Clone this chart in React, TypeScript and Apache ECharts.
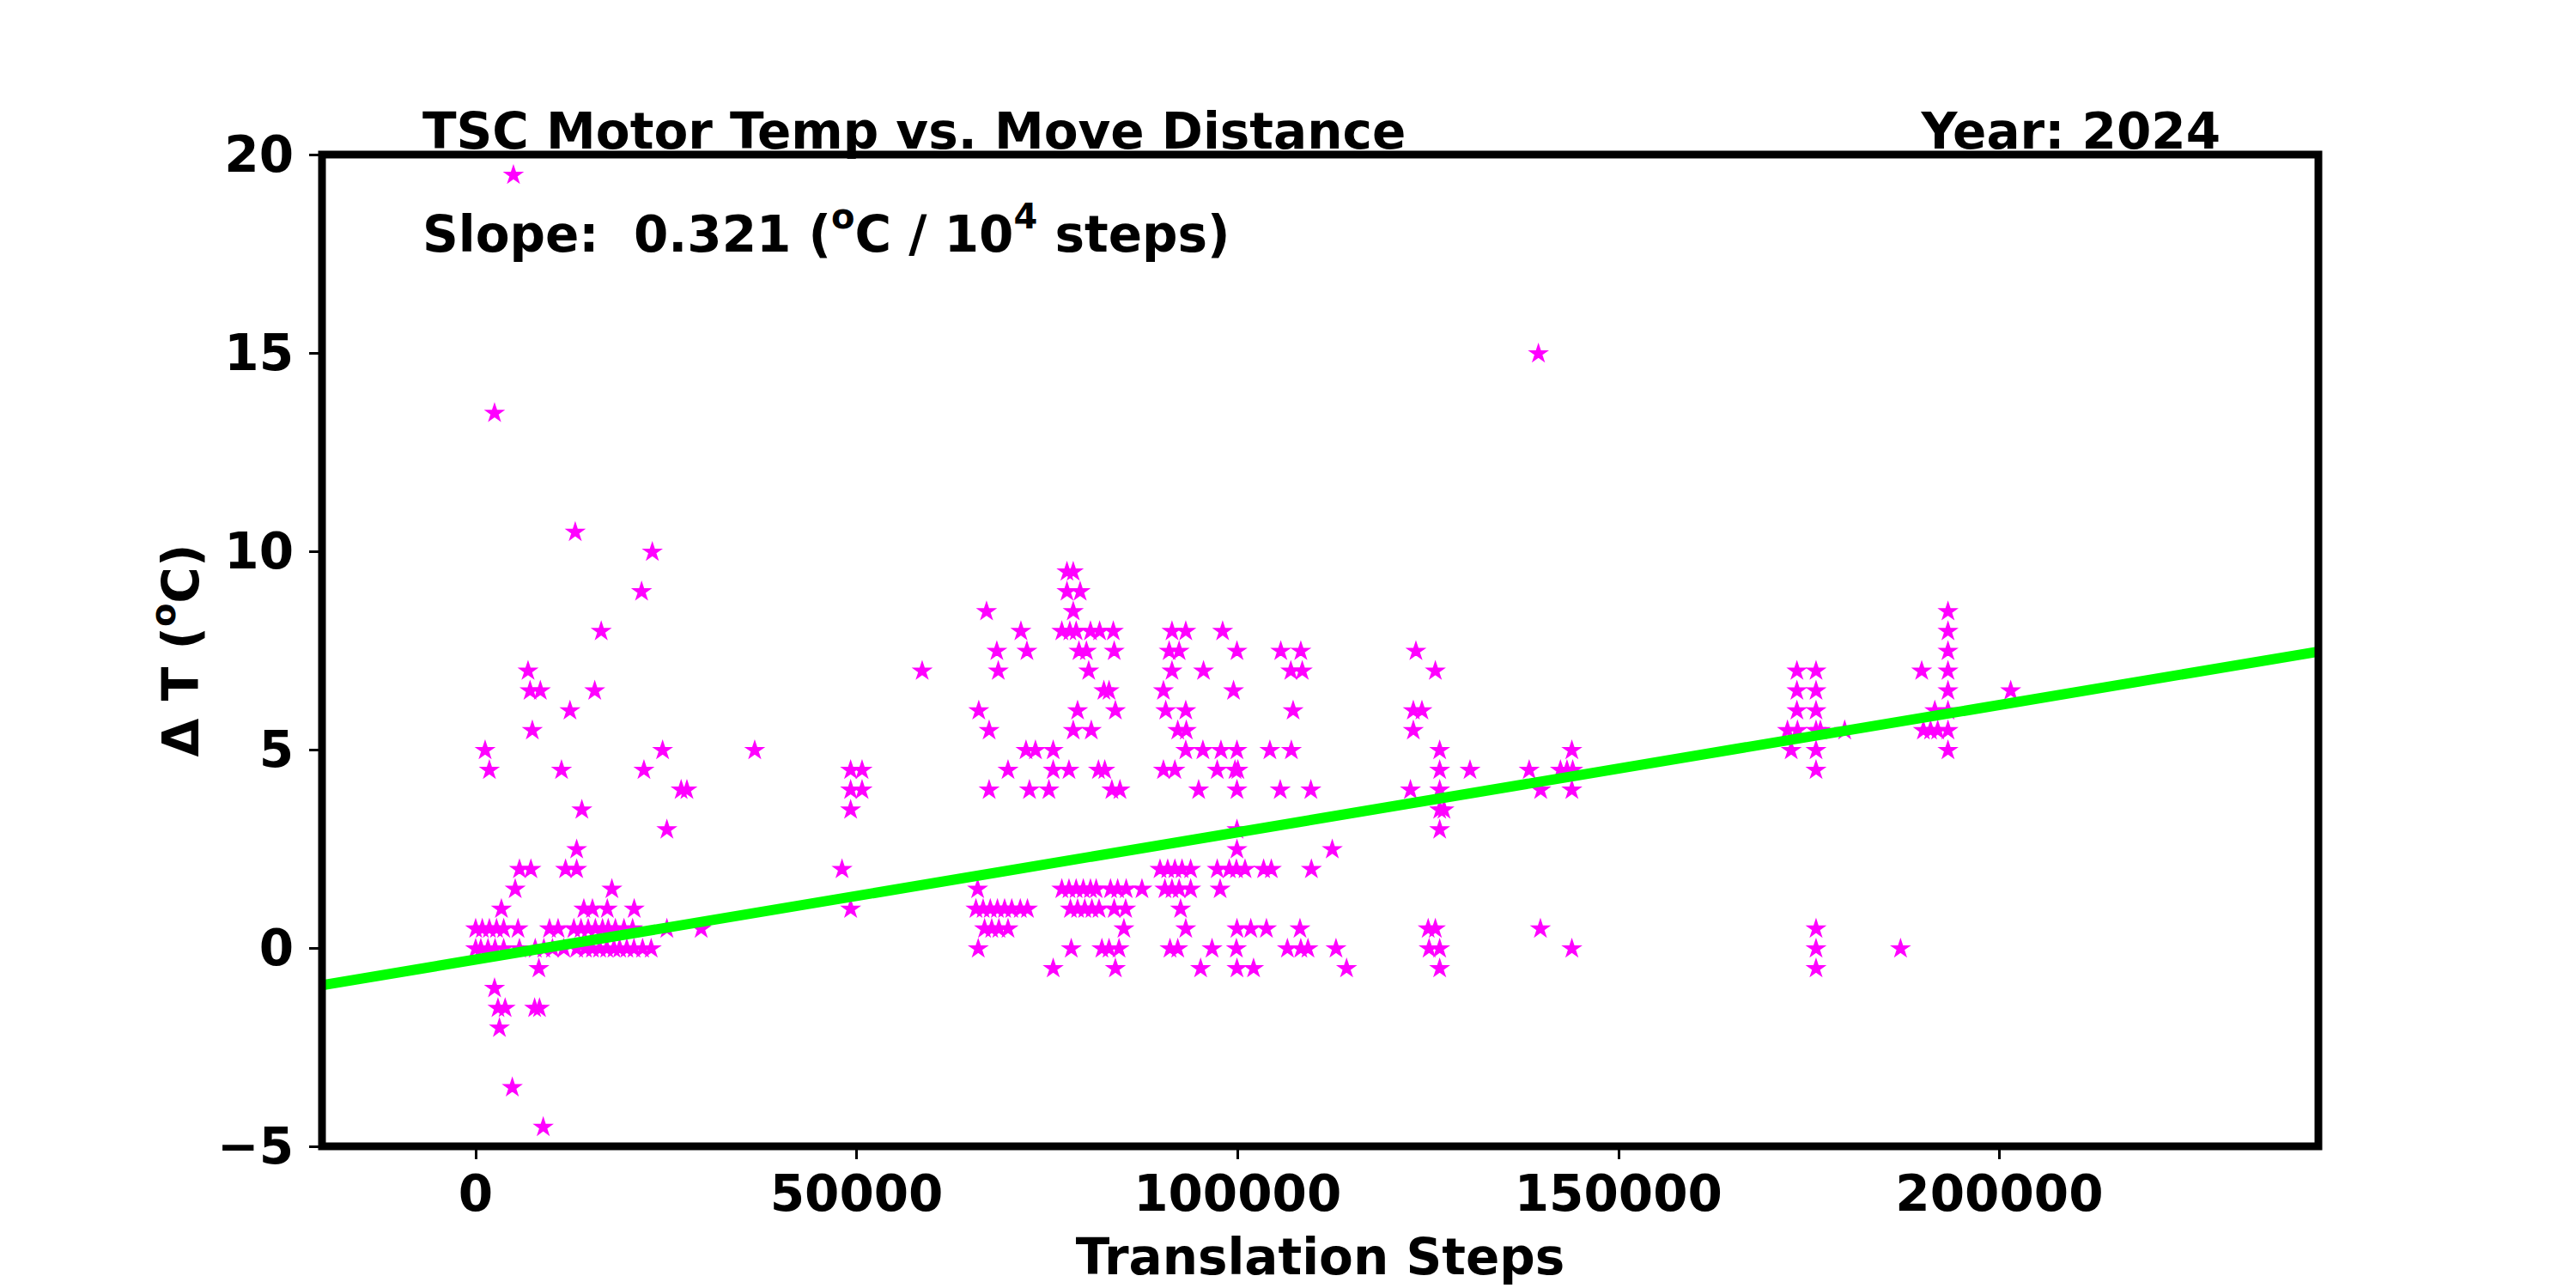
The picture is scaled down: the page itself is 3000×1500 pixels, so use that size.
import React, { useEffect, useRef } from "react";
import * as echarts from "echarts";

// ---- axis ranges & ticks ----
const X_MIN = -20170;
const X_MAX = 241880;
const Y_MIN = -5;
const Y_MAX = 20;
const xTickValues = [0, 50000, 100000, 150000, 200000];

// ---- texts ----
const titleText = "TSC Motor Temp vs. Move Distance";
const yearText = "Year: 2024";
const xAxisName = "Translation Steps";

// ---- data: [translation steps, delta T] ----
const earlyPoints: number[][] = [
  [4960, 19.5], [2480, 13.5], [13070, 10.5], [23190, 10.0], [21780, 9.0], [16480, 8.0],
  [6875, 7.0], [7140, 6.5], [8490, 6.5], [15630, 6.5], [12380, 6.0], [7440, 5.5],
  [1240, 5.0], [24540, 5.0], [36630, 5.0], [1800, 4.5], [11270, 4.5], [22090, 4.5],
  [26970, 4.0], [27730, 4.0], [13940, 3.5], [25100, 3.0], [13260, 2.5],
  [5750, 2.0], [7250, 2.0], [11800, 2.0], [13260, 2.0], [5190, 1.5], [17880, 1.5],
  [3380, 1.0], [14200, 1.0], [15330, 1.0], [17280, 1.0], [20810, 1.0],
  [0, 0.5], [870, 0.5], [1800, 0.5], [2740, 0.5], [3680, 0.5], [5560, 0.5], [9690, 0.5],
  [10820, 0.5], [12890, 0.5], [13830, 0.5], [14770, 0.5], [15710, 0.5], [16650, 0.5],
  [17400, 0.5], [18340, 0.5], [19470, 0.5], [20600, 0.5], [25100, 0.5], [29600, 0.5],
  [0, 0], [680, 0], [1620, 0], [2550, 0], [3680, 0], [5750, 0], [7820, 0], [8950, 0],
  [10080, 0], [11570, 0], [13260, 0], [14400, 0], [15330, 0], [16270, 0], [17210, 0],
  [18150, 0], [18900, 0], [19840, 0], [20780, 0], [21910, 0], [23040, 0],
  [8300, -0.5], [2480, -1.0], [2930, -1.5], [3870, -1.5], [7740, -1.5], [8380, -1.5],
  [3120, -2.0], [4810, -3.5], [8870, -4.5],
];

const midPoints: number[][] = [
  [48090, 2.0], [49220, 4.5], [50720, 4.5], [49220, 4.0], [50720, 4.0],
  [49220, 3.5], [49220, 1.0], [58610, 7.0],
];

const densePoints: number[][] = [
  [77616, 9.5], [78440, 9.5], [77616, 9.0], [79345, 9.0], [67060, 8.5], [78440, 8.5],
  [71570, 8.0], [76940, 8.0], [77990, 8.0], [78820, 8.0], [80700, 8.0], [81900, 8.0],
  [83700, 8.0], [91400, 8.0], [93210, 8.0], [98050, 8.0],
  [68410, 7.5], [72360, 7.5], [79190, 7.5], [80170, 7.5], [83815, 7.5], [91030, 7.5],
  [92340, 7.5], [99930, 7.5], [105680, 7.5], [108310, 7.5],
  [68600, 7.0], [80470, 7.0], [91400, 7.0], [95540, 7.0], [107000, 7.0], [108500, 7.0],
  [82460, 6.5], [83140, 6.5], [90280, 6.5], [99480, 6.5],
  [66040, 6.0], [79010, 6.0], [83970, 6.0], [90580, 6.0], [93210, 6.0], [107300, 6.0],
  [67400, 5.5], [78440, 5.5], [80810, 5.5], [92160, 5.5], [93280, 5.5],
  [72240, 5.0], [73480, 5.0], [75810, 5.0], [93210, 5.0], [95460, 5.0], [97830, 5.0],
  [99930, 5.0], [104250, 5.0], [107070, 5.0],
  [69880, 4.5], [75810, 4.5], [77880, 4.5], [81750, 4.5], [82580, 4.5], [90280, 4.5],
  [91780, 4.5], [97340, 4.5], [99670, 4.5], [100050, 4.5],
  [67400, 4.0], [72690, 4.0], [75250, 4.0], [83510, 4.0], [84570, 4.0], [94900, 4.0],
  [99930, 4.0], [105610, 4.0], [109630, 4.0],
  [99930, 3.0], [99930, 2.5], [112440, 2.5],
  [89830, 2.0], [90840, 2.0], [91780, 2.0], [92720, 2.0], [93850, 2.0], [97340, 2.0],
  [98920, 2.0], [99860, 2.0], [100990, 2.0], [103430, 2.0], [104440, 2.0], [109700, 2.0],
  [65890, 1.5], [76940, 1.5], [77880, 1.5], [78820, 1.5], [79760, 1.5], [80700, 1.5],
  [81450, 1.5], [83330, 1.5], [84270, 1.5], [85390, 1.5], [87460, 1.5], [90470, 1.5],
  [91400, 1.5], [92340, 1.5], [93850, 1.5], [97720, 1.5],
  [65670, 1.0], [66610, 1.0], [67550, 1.0], [68490, 1.0], [69430, 1.0], [70370, 1.0],
  [71490, 1.0], [72430, 1.0], [78070, 1.0], [79010, 1.0], [79950, 1.0], [80890, 1.0],
  [81830, 1.0], [83815, 1.0], [85320, 1.0], [92530, 1.0],
  [66800, 0.5], [67740, 0.5], [68680, 0.5], [69880, 0.5], [85090, 0.5], [93210, 0.5],
  [99930, 0.5], [101740, 0.5], [103800, 0.5], [108200, 0.5],
  [65970, 0], [78180, 0], [82200, 0], [83140, 0], [84450, 0], [91140, 0], [92160, 0],
  [96660, 0], [99860, 0], [106550, 0], [108310, 0], [109250, 0], [112930, 0],
  [75810, -0.5], [83970, -0.5], [95160, -0.5], [99930, -0.5], [102110, -0.5], [114320, -0.5],
];

const latePoints: number[][] = [
  [139500, 15.0], [123420, 7.5], [125970, 7.0], [123080, 6.0], [124210, 6.0], [123080, 5.5],
  [126540, 5.0], [143890, 5.0], [126540, 4.5], [130520, 4.5], [138290, 4.5], [142390, 4.5],
  [143250, 4.5], [144000, 4.5], [122700, 4.0], [126540, 4.0], [139800, 4.0], [143890, 4.0],
  [126540, 3.5], [127100, 3.5], [126540, 3.0], [125030, 0.5], [125970, 0.5], [139760, 0.5],
  [125150, 0], [126540, 0], [143890, 0], [126540, -0.5],
];

const farPoints: number[][] = [
  [193260, 8.5], [193260, 8.0], [193260, 7.5],
  [173430, 7.0], [175940, 7.0], [189810, 7.0], [193260, 7.0],
  [173430, 6.5], [175940, 6.5], [193260, 6.5], [201490, 6.5],
  [173430, 6.0], [175940, 6.0], [191530, 6.0], [193260, 6.0],
  [172190, 5.5], [173500, 5.5], [175940, 5.5], [176510, 5.5], [179700, 5.5],
  [190030, 5.5], [190970, 5.5], [191910, 5.5], [193260, 5.5],
  [172680, 5.0], [175940, 5.0], [193260, 5.0], [175940, 4.5],
  [175940, 0.5], [175940, 0], [187030, 0], [175940, -0.5],
];

// fit line end points (at the axis edges)
const fitX = [X_MIN, X_MAX];
const fitY = [-0.94, 7.47];

const STAR =
  "path://M0,-1L0.2245,-0.309L0.9511,-0.309L0.3633,0.118L0.5878,0.809L0,0.382L-0.5878,0.809L-0.3633,0.118L-0.9511,-0.309L-0.2245,-0.309Z";

const FONT = "DejaVu Sans";

export default function App() {
  const ref = useRef<HTMLDivElement>(null);

  useEffect(() => {
    if (!ref.current) return;
    const chart = echarts.init(ref.current, undefined, { renderer: "svg" });
    const allPoints = [...earlyPoints, ...midPoints, ...densePoints, ...latePoints, ...farPoints];
    const base = { fontFamily: FONT, fontWeight: "bold" as const, fontSize: 58, color: "#000" };

    chart.setOption({
      animation: false,
      backgroundColor: "#fff",
      textStyle: { fontFamily: FONT, fontWeight: "bold" },
      grid: {
        left: 375,
        top: 180,
        width: 2325,
        height: 1155,
        show: true,
        borderColor: "#000",
        borderWidth: 9,
        backgroundColor: "transparent",
        z: 10,
      },
      xAxis: {
        type: "value",
        min: X_MIN,
        max: X_MAX,
        name: xAxisName,
        nameLocation: "middle",
        nameGap: 100,
        nameTextStyle: { ...base },
        axisLine: { show: false, onZero: false },
        splitLine: { show: false },
        axisTick: {
          show: true,
          length: 15,
          lineStyle: { color: "#000", width: 3 },
          customValues: xTickValues,
        },
        axisLabel: {
          ...base,
          margin: 26,
          customValues: xTickValues,
          formatter: (v: number) => String(v),
        },
      },
      yAxis: {
        type: "value",
        min: Y_MIN,
        max: Y_MAX,
        interval: 5,
        name: "{n|Δ T (}{s|o}{n|C)}",
        nameLocation: "middle",
        nameGap: 135,
        nameRotate: 90,
        nameTextStyle: {
          ...base,
          rich: {
            n: { ...base, lineHeight: 70, verticalAlign: "bottom" },
            s: { ...base, fontSize: 40, lineHeight: 40, verticalAlign: "top" },
          },
        },
        axisLine: { show: false, onZero: false },
        splitLine: { show: false },
        axisTick: { show: true, length: 15, lineStyle: { color: "#000", width: 3 } },
        axisLabel: {
          ...base,
          margin: 33,
          formatter: (v: number) => (v < 0 ? "\u2212" + Math.abs(v) : String(v)),
        },
      },
      graphic: [
        {
          type: "text",
          x: 492,
          y: 153,
          z: 100,
          style: {
            text: titleText,
            fill: "#000",
            font: `bold 58px "${FONT}"`,
            align: "left",
            verticalAlign: "middle",
            textAlign: "left",
            textVerticalAlign: "middle",
          },
        },
        {
          type: "text",
          x: 2586,
          y: 153,
          z: 100,
          style: {
            text: yearText,
            fill: "#000",
            font: `bold 58px "${FONT}"`,
            align: "right",
            verticalAlign: "middle",
            textAlign: "right",
            textVerticalAlign: "middle",
          },
        },
        {
          type: "text",
          x: 492,
          y: 232,
          z: 100,
          style: {
            text: "{n|Slope:  0.321 (}{s|o}{n|C / 10}{s|4}{n| steps)}",
            fill: "#000",
            align: "left",
            verticalAlign: "top",
            rich: {
              n: { ...base, lineHeight: 70, verticalAlign: "bottom" },
              s: { ...base, fontSize: 40, lineHeight: 40, verticalAlign: "top" },
            },
          },
        },
      ],
      series: [
        {
          type: "scatter",
          data: allPoints,
          symbol: STAR,
          symbolSize: [17, 16],
          itemStyle: { color: "#ff00ff", borderColor: "#ff00ff", borderWidth: 2.5, opacity: 1 },
          z: 2,
        },
        {
          type: "line",
          data: fitX.map((x, i) => [x, fitY[i]]),
          showSymbol: false,
          symbol: "none",
          lineStyle: { color: "#00ff00", width: 12 },
          z: 3,
        },
      ],
    });

    return () => chart.dispose();
  }, []);

  return (
    <div
      ref={ref}
      style={{ position: "absolute", left: 0, top: 0, width: 3000, height: 1500, background: "#fff" }}
    />
  );
}
